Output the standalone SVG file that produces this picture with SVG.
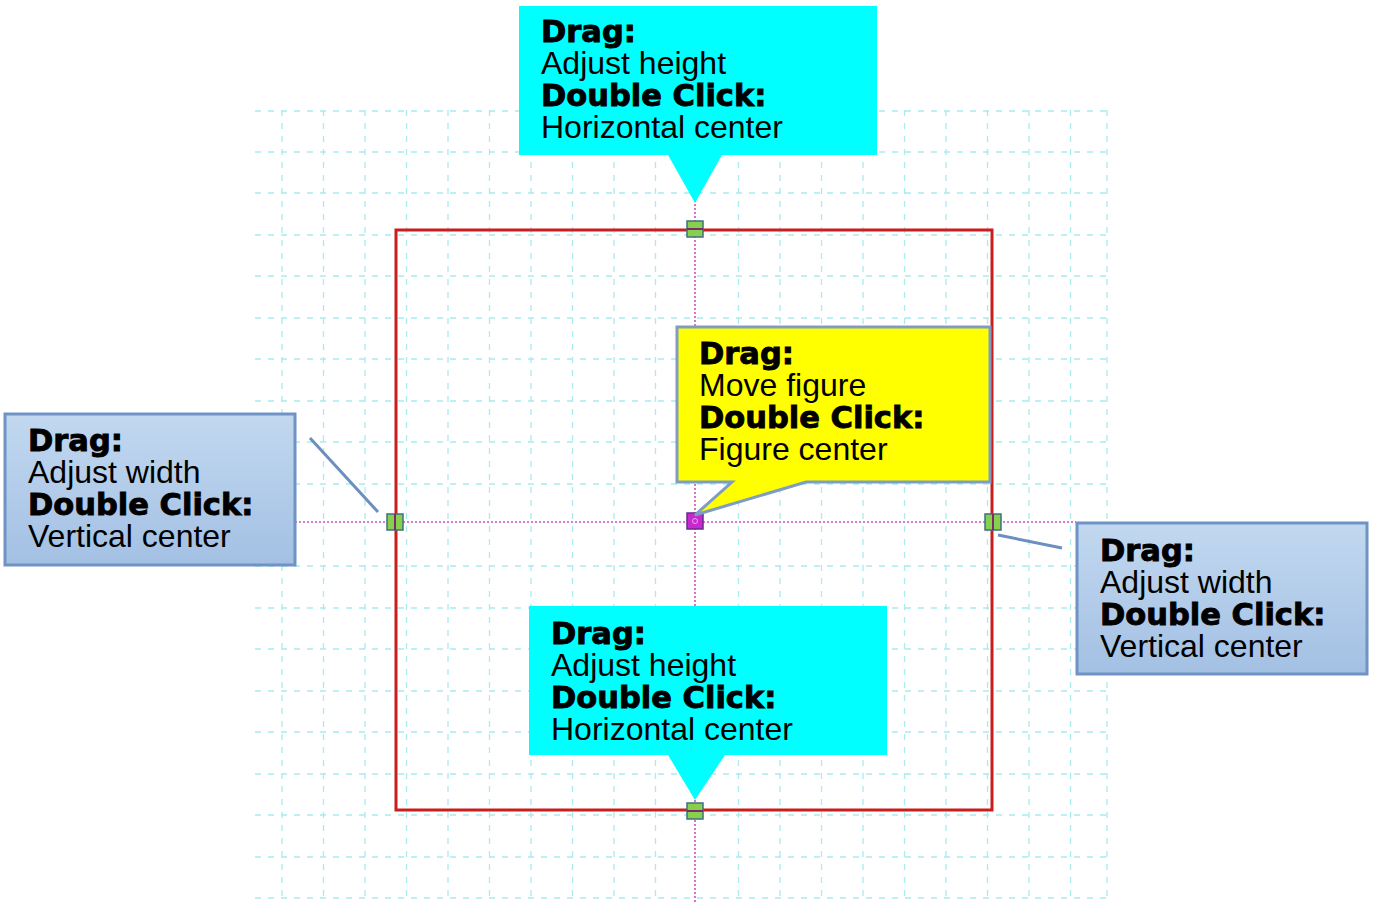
<svg xmlns="http://www.w3.org/2000/svg" width="1376" height="902" viewBox="0 0 1376 902">
<defs>
<style>
.grid line{stroke:#a8ecee;stroke-width:1.3;stroke-dasharray:6 7}
.guide{stroke:#d050c0;stroke-width:1.6;stroke-dasharray:2 2;fill:none}
.t{font-family:"Liberation Sans",Arial,sans-serif;font-size:32px;fill:#000}
.b{font-family:"DejaVu Sans",sans-serif;font-weight:bold;font-size:30.5px;fill:#000;stroke:#000;stroke-width:0.9}
.cyan{fill:#00ffff}
.yel{fill:#ffff00;stroke:#7e9cc4;stroke-width:3}
.blue{fill:url(#bg);stroke:#6f93c4;stroke-width:3}
.lead{stroke:#6b8fbf;stroke-width:3;fill:none}
.h{fill:#86d04e;stroke:#3f6f80;stroke-width:1.5}
</style>
<linearGradient id="bg" x1="0" y1="0" x2="0" y2="1">
<stop offset="0" stop-color="#c2d8f0"/>
<stop offset="1" stop-color="#a3c0e3"/>
</linearGradient>
</defs>
<rect width="1376" height="902" fill="#fff"/>
<g class="grid" id="grid">
<line x1="282" y1="110" x2="282" y2="902"/><line x1="323.5" y1="110" x2="323.5" y2="902"/><line x1="365" y1="110" x2="365" y2="902"/><line x1="406.5" y1="110" x2="406.5" y2="902"/><line x1="448" y1="110" x2="448" y2="902"/><line x1="489.5" y1="110" x2="489.5" y2="902"/><line x1="531" y1="110" x2="531" y2="902"/><line x1="572.5" y1="110" x2="572.5" y2="902"/><line x1="614" y1="110" x2="614" y2="902"/><line x1="655.5" y1="110" x2="655.5" y2="902"/><line x1="738.5" y1="110" x2="738.5" y2="902"/><line x1="780" y1="110" x2="780" y2="902"/><line x1="821.5" y1="110" x2="821.5" y2="902"/><line x1="863" y1="110" x2="863" y2="902"/><line x1="904.5" y1="110" x2="904.5" y2="902"/><line x1="946" y1="110" x2="946" y2="902"/><line x1="987.5" y1="110" x2="987.5" y2="902"/><line x1="1029" y1="110" x2="1029" y2="902"/><line x1="1070.5" y1="110" x2="1070.5" y2="902"/><line x1="1107" y1="110" x2="1107" y2="902"/>
<line x1="255" y1="111" x2="1108" y2="111"/><line x1="255" y1="152" x2="1108" y2="152"/><line x1="255" y1="193" x2="1108" y2="193"/><line x1="255" y1="235" x2="1108" y2="235"/><line x1="255" y1="276" x2="1108" y2="276"/><line x1="255" y1="318" x2="1108" y2="318"/><line x1="255" y1="359" x2="1108" y2="359"/><line x1="255" y1="401" x2="1108" y2="401"/><line x1="255" y1="442" x2="1108" y2="442"/><line x1="255" y1="484" x2="1108" y2="484"/><line x1="255" y1="566" x2="1108" y2="566"/><line x1="255" y1="608" x2="1108" y2="608"/><line x1="255" y1="649" x2="1108" y2="649"/><line x1="255" y1="691" x2="1108" y2="691"/><line x1="255" y1="732" x2="1108" y2="732"/><line x1="255" y1="774" x2="1108" y2="774"/><line x1="255" y1="815" x2="1108" y2="815"/><line x1="255" y1="857" x2="1108" y2="857"/><line x1="255" y1="898" x2="1108" y2="898"/>
</g>
<g id="figure">
<rect x="396" y="230" width="596" height="580" fill="none" stroke="#c81e1e" stroke-width="3"/>
</g>
<g id="guides">
<line class="guide" x1="295" y1="522" x2="1076" y2="522"/>
<line class="guide" x1="695" y1="200" x2="695" y2="902"/>
</g>
<g id="connectors">
<line class="lead" x1="310" y1="438" x2="378" y2="512"/>
<line class="lead" x1="998" y1="535" x2="1062" y2="548"/>
</g>
<g id="handles">
<g id="handle-top"><rect class="h" x="687" y="221" width="16" height="16"/><line x1="687" y1="229" x2="703" y2="229" stroke="#7a2a6a" stroke-width="2"/></g>
<g id="handle-left"><rect class="h" x="387" y="514" width="16" height="16"/><line x1="395" y1="514" x2="395" y2="530" stroke="#7a2a6a" stroke-width="2"/></g>
<g id="handle-right"><rect class="h" x="985" y="514" width="16" height="16"/><line x1="993" y1="514" x2="993" y2="530" stroke="#7a2a6a" stroke-width="2"/></g>
<g id="handle-bottom"><rect class="h" x="687" y="803" width="16" height="16"/><line x1="687" y1="811" x2="703" y2="811" stroke="#7a2a6a" stroke-width="2"/></g>
<g id="handle-center"><rect x="687" y="513" width="16" height="16" fill="#c828d0" stroke="#6a2a8a" stroke-width="1.5"/><circle cx="695" cy="521" r="2.5" fill="none" stroke="#f0a0f0" stroke-width="1"/></g>
</g>
<g id="callout-top">
<path class="cyan" d="M519 6H877V155H722L695 203L668 155H519Z"/>
<text class="b" x="541" y="42">Drag:</text>
<text class="t" x="541" y="74">Adjust height</text>
<text class="b" x="541" y="106">Double Click:</text>
<text class="t" x="541" y="138">Horizontal center</text>
</g>
<g id="callout-center">
<path class="yel" d="M677 327H990V482H806L695 515L732 482H677Z"/>
<text class="b" x="699" y="364">Drag:</text>
<text class="t" x="699" y="396">Move figure</text>
<text class="b" x="699" y="428">Double Click:</text>
<text class="t" x="699" y="460">Figure center</text>
</g>
<g id="callout-left">
<rect class="blue" x="5" y="414" width="290" height="151"/>
<text class="b" x="28" y="451">Drag:</text>
<text class="t" x="28" y="483">Adjust width</text>
<text class="b" x="28" y="515">Double Click:</text>
<text class="t" x="28" y="547">Vertical center</text>
</g>
<g id="callout-right">
<rect class="blue" x="1077" y="523" width="290" height="151"/>
<text class="b" x="1100" y="561">Drag:</text>
<text class="t" x="1100" y="593">Adjust width</text>
<text class="b" x="1100" y="625">Double Click:</text>
<text class="t" x="1100" y="657">Vertical center</text>
</g>
<g id="callout-bottom">
<path class="cyan" d="M529 606H887V755H725L695 800L668 755H529Z"/>
<text class="b" x="551" y="644">Drag:</text>
<text class="t" x="551" y="676">Adjust height</text>
<text class="b" x="551" y="708">Double Click:</text>
<text class="t" x="551" y="740">Horizontal center</text>
</g>
</svg>
